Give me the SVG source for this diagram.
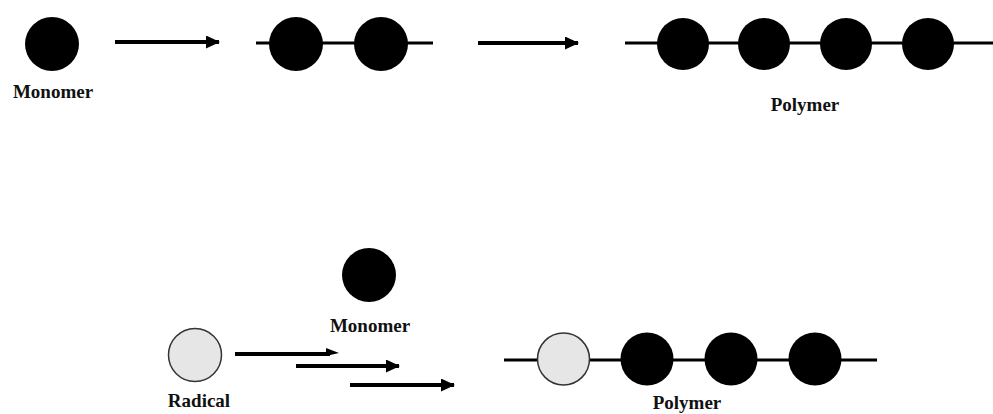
<svg xmlns="http://www.w3.org/2000/svg" width="993" height="414" viewBox="0 0 993 414">
<style>
.m{fill:#000}
.r{fill:#e6e6e6;stroke:#333;stroke-width:1.5}
.b{stroke:#000;stroke-width:3;fill:none}
.a{stroke:#000;stroke-width:4;fill:none}
.t{font-family:"Liberation Serif","Times New Roman",serif;font-weight:bold;font-size:19px;fill:#111;text-anchor:middle}
</style>
<defs>
<marker id="ah" markerUnits="userSpaceOnUse" markerWidth="14" markerHeight="13" refX="13" refY="6.5" orient="auto">
<path d="M0,0 L14,6.5 L0,13 Z" fill="#000"/>
</marker>
</defs>
<g id="connectors">
<line class="a" x1="115" y1="42" x2="219" y2="42" marker-end="url(#ah)"/>
<line class="b" x1="256" y1="43" x2="433" y2="43"/>
<line class="a" x1="478" y1="43" x2="578" y2="43" marker-end="url(#ah)"/>
<line class="b" x1="625" y1="43" x2="993" y2="43"/>
<line class="a" x1="235" y1="354" x2="330" y2="354"/>
<path d="M326,348 L339,353 L326,356 Z" fill="#000"/>
<line class="a" x1="296" y1="366" x2="399" y2="366" marker-end="url(#ah)"/>
<line class="a" x1="350" y1="385" x2="454" y2="385" marker-end="url(#ah)"/>
<line class="b" x1="504" y1="360" x2="877" y2="360"/>
</g>
<g id="monomer-top">
<circle class="m" cx="52" cy="44" r="27"/>
<text class="t" x="53" y="98">Monomer</text>
</g>
<g id="dimer">
<circle class="m" cx="296" cy="44" r="27"/>
<circle class="m" cx="381" cy="44" r="27"/>
</g>
<g id="polymer-top">
<circle class="m" cx="683" cy="44" r="26"/>
<circle class="m" cx="764" cy="44" r="26"/>
<circle class="m" cx="846" cy="44" r="26"/>
<circle class="m" cx="928" cy="44" r="26"/>
<text class="t" x="805" y="111">Polymer</text>
</g>
<g id="monomer-bottom">
<circle class="m" cx="369" cy="275" r="27"/>
<text class="t" x="370" y="332">Monomer</text>
</g>
<g id="radical">
<circle class="r" cx="195" cy="355" r="26.5"/>
<text class="t" x="199" y="407">Radical</text>
</g>
<g id="polymer-bottom">
<circle class="r" cx="563.5" cy="359" r="26"/>
<circle class="m" cx="647" cy="359" r="26.5"/>
<circle class="m" cx="731" cy="359" r="26.5"/>
<circle class="m" cx="815" cy="359" r="26.5"/>
<text class="t" x="687" y="409">Polymer</text>
</g>
</svg>
